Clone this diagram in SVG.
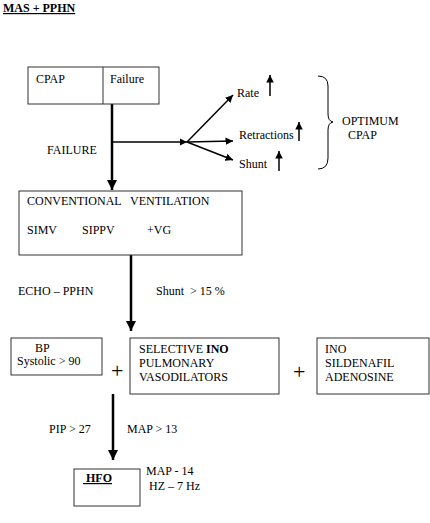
<svg xmlns="http://www.w3.org/2000/svg" width="430" height="523" viewBox="0 0 430 523" font-family="'Liberation Serif', 'Times New Roman', 'DejaVu Serif', serif">
<defs>
<marker id="ah" viewBox="0 0 10 10" refX="10" refY="5" markerWidth="4" markerHeight="4" orient="auto" markerUnits="strokeWidth"><path d="M0,0 L10,5 L0,10 z" fill="#000"/></marker>
<marker id="ahs" viewBox="0 0 10 10" refX="10" refY="5" markerWidth="5" markerHeight="5" orient="auto" markerUnits="strokeWidth"><path d="M0,0 L10,5 L0,10 z" fill="#000"/></marker>
</defs>
<style>
text{font-family:'Liberation Serif','Times New Roman','DejaVu Serif',serif;font-size:12px;fill:#000}
.box{fill:#fff;stroke:#333;stroke-width:1}
.thick{stroke:#000;stroke-width:2.5;fill:none}
.thin{stroke:#000;stroke-width:1.5;fill:none}
.b{font-weight:bold}
.plus{font-size:22px}
</style>
<rect width="430" height="523" fill="#fff"/>
<text x="3" y="12" class="b" text-decoration="underline">MAS + PPHN</text>

<g id="connectors">
<line x1="112" y1="104" x2="112" y2="190" class="thick" marker-end="url(#ah)"/>
<line x1="112" y1="142" x2="187" y2="142" class="thin" marker-end="url(#ahs)"/>
<line x1="187" y1="142" x2="233" y2="95" class="thin" marker-end="url(#ahs)"/>
<line x1="187" y1="142" x2="233" y2="141" class="thin" marker-end="url(#ahs)"/>
<line x1="187" y1="142" x2="233" y2="160" class="thin" marker-end="url(#ahs)"/>
<line x1="270" y1="96" x2="270" y2="75" class="thin" marker-end="url(#ahs)"/>
<line x1="299" y1="141" x2="299" y2="122" class="thin" marker-end="url(#ahs)"/>
<line x1="279" y1="171" x2="279" y2="151" class="thin" marker-end="url(#ahs)"/>
<line x1="131" y1="255" x2="131" y2="331" class="thick" marker-end="url(#ah)"/>
<line x1="113" y1="394" x2="113" y2="460" class="thick" marker-end="url(#ah)"/>
<path d="M318,76 Q328,76 328,86 L328,114 Q328,121 333,122 Q328,123 328,130 L328,158 Q328,169 318,169" fill="none" stroke="#000" stroke-width="1"/>
</g>

<g id="cpap">
<rect x="28" y="67" width="131" height="37" class="box"/>
<line x1="103" y1="67" x2="103" y2="104" stroke="#333" stroke-width="1"/>
<text x="36" y="83">CPAP</text>
<text x="110" y="83">Failure</text>
</g>
<text x="47" y="154">FAILURE</text>

<g id="rate"><text x="237" y="97">Rate</text></g>
<g id="retractions"><text x="239" y="139">Retractions</text></g>
<g id="shunt"><text x="239" y="168">Shunt</text></g>
<g id="optimum"><text x="342" y="125">OPTIMUM</text><text x="348" y="139">CPAP</text></g>

<g id="conventional">
<rect x="19" y="191" width="223" height="64" class="box"/>
<text x="27" y="205" xml:space="preserve">CONVENTIONAL   VENTILATION</text>
<text x="27" y="234">SIMV</text>
<text x="82" y="234">SIPPV</text>
<text x="147" y="234">+VG</text>
</g>
<text x="18" y="295">ECHO – PPHN</text>
<text x="156" y="295" xml:space="preserve">Shunt  &gt; 15 %</text>

<g id="bp">
<rect x="11" y="338" width="91" height="37" class="box"/>
<text x="35" y="352">BP</text>
<text x="17" y="365">Systolic &gt; 90</text>
</g>
<text x="111" y="378" class="plus">+</text>
<g id="selective">
<rect x="130" y="338" width="149" height="56" class="box"/>
<text x="139" y="353">SELECTIVE <tspan class="b">INO</tspan></text>
<text x="139" y="367">PULMONARY</text>
<text x="139" y="381">VASODILATORS</text>
</g>
<text x="293" y="379" class="plus">+</text>
<g id="ino">
<rect x="317" y="338" width="112" height="56" class="box"/>
<text x="325" y="353">INO</text>
<text x="325" y="367">SILDENAFIL</text>
<text x="325" y="381">ADENOSINE</text>
</g>

<text x="49" y="433">PIP &gt; 27</text>
<text x="127" y="433">MAP &gt; 13</text>
<g id="hfo">
<rect x="74" y="469" width="66" height="37" class="box"/>
<text x="83" y="482" class="b" text-decoration="underline" xml:space="preserve"> HFO</text>
</g>
<text x="146" y="475">MAP - 14</text>
<text x="149" y="490">HZ – 7 Hz</text>
</svg>
